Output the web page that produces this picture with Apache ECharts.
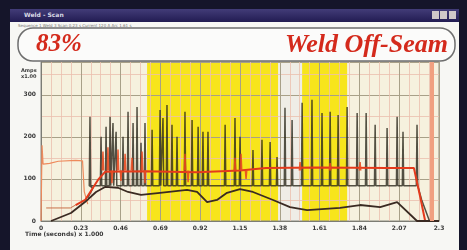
<!DOCTYPE html>
<html>
<head>
<meta charset="utf-8">
<script src="https://cdn.jsdelivr.net/npm/echarts@6/dist/echarts.min.js"></script>
<style>
html, body { margin: 0; padding: 0; background: #15152a; overflow: hidden; }
#frame { position: absolute; left: 10px; top: 9px; width: 449px; height: 245px; background: #f7f7f4; }
#titlebar { position: absolute; left: 10px; top: 9px; width: 449px; height: 13px; background: linear-gradient(#423c78, #221c52); }
#titlebar span { position: absolute; left: 14px; top: 2px; font: bold 6px 'DejaVu Sans'; color: #d8d8e4; }
.btn { position: absolute; top: 11px; width: 7px; height: 8px; background: #cfc8c8; }
#status { position: absolute; left: 18px; top: 23px; font: 4px 'DejaVu Sans'; color: #777; white-space: nowrap; }
#chart { position: absolute; left: 0; top: 0; width: 467px; height: 250px; }
</style>
</head>
<body>
<div id="frame"></div>
<div id="titlebar"><span>Weld - Scan</span></div>
<div class="btn" style="left:432px"></div>
<div class="btn" style="left:440px"></div>
<div class="btn" style="left:449px"></div>
<div id="status">Sequence 1  Weld 3  Scan 0.23 s  Current 120 A  Arc 1.61 s</div>
<div id="chart"></div>
<script>
var xTickLabels = ['0', '0.23', '0.46', '0.69', '0.92', '1.15', '1.38', '1.61', '1.84', '2.07', '2.3']

// dark averaged trace
var avgTimes = [0.058, 0.173, 0.254, 0.318, 0.37, 0.445, 0.503, 0.578, 0.688, 0.844, 0.902, 0.96, 1.017, 1.075, 1.15, 1.225, 1.341, 1.439, 1.538, 1.728, 1.844, 1.96, 2.058, 2.173, 2.3]
var avgValues = [0, 19, 45, 69, 81, 79, 69, 62, 67, 74, 69, 45, 50, 67, 76, 69, 50, 33, 26, 31, 38, 33, 45, 0, 0]

// black spiky trace
var blackBase = 84
var blackStartTimes = [0.27, 0.3]
var blackStartValues = [55, 78]
var spikeTimes = [0.283, 0.347, 0.376, 0.399, 0.416, 0.434, 0.474, 0.503, 0.532, 0.555, 0.578, 0.601, 0.642, 0.688, 0.705, 0.728, 0.757, 0.786, 0.832, 0.873, 0.908, 0.936, 0.965, 1.064, 1.121, 1.15, 1.225, 1.277, 1.324, 1.364, 1.41, 1.451, 1.509, 1.566, 1.624, 1.671, 1.717, 1.769, 1.827, 1.879, 1.931, 2.0, 2.058, 2.092, 2.173]
var spikePeaks = [248, 200, 224, 248, 233, 212, 200, 260, 233, 271, 186, 233, 217, 264, 245, 276, 229, 200, 260, 240, 224, 212, 212, 229, 245, 200, 169, 193, 188, 152, 269, 240, 281, 288, 257, 260, 252, 271, 257, 257, 229, 221, 248, 212, 229]
var blackEndTimes = [2.2, 2.245, 2.3]
var blackEndValues = [50, 0, 0]

// red trace
var preflowTimes = [0.03, 0.17, 0.2]
var preflowValues = [31, 31, 38]
var redTimes = [0.2, 0.255, 0.33, 0.37, 0.6, 0.9, 1.15, 1.3, 1.6, 2.0, 2.155, 2.19, 2.22, 2.3]
var redValues = [38, 50, 98, 117, 118, 116, 120, 126, 127, 126, 126, 60, 0, 0]
var redLevel = 120
var redSpikeTimes = [0.358, 0.387, 0.41, 0.445, 0.462, 0.486, 0.526, 0.584, 0.601, 0.832, 0.85, 1.121, 1.156, 1.185, 1.497, 1.671, 1.844]
var redSpikeValues = [165, 175, 90, 170, 95, 160, 150, 165, 90, 160, 92, 150, 160, 100, 140, 138, 140]

// orange open-circuit trace
var voltTimes = [0, 0.006, 0.012, 0.05, 0.1, 0.2, 0.24, 0.25, 0.27]
var voltValues = [0, 180, 135, 137, 142, 144, 143, 70, 40]

var yellowBands = [[0.613, 1.37], [1.509, 1.769]]
var paleBand = [1.37, 1.509]
var endMarkTime = 2.258

function pairs (ts, vs) {
  return ts.map(function (t, i) { return [t, vs[i]] })
}

var blackData = pairs(blackStartTimes, blackStartValues)
spikeTimes.forEach(function (t, i) {
  blackData.push([t - 0.004, blackBase], [t, spikePeaks[i]], [t + 0.004, blackBase])
})
blackData = blackData.concat(pairs(blackEndTimes, blackEndValues))

var redSpikeData = []
redSpikeTimes.forEach(function (t, i) {
  redSpikeData.push([t - 0.004, redLevel], [t, redSpikeValues[i]], [t + 0.004, redLevel], [t + 0.0045, '-'])
})

var bandAreas = [[{ xAxis: 0, itemStyle: { color: '#f6f1de' } }, { xAxis: 2.3 }]]
bandAreas.push([{ xAxis: paleBand[0], itemStyle: { color: '#efede6' } }, { xAxis: paleBand[1] }])
yellowBands.forEach(function (b) {
  bandAreas.push([{ xAxis: b[0], itemStyle: { color: '#f7e51c' } }, { xAxis: b[1] }])
})

var myChart = echarts.init(document.getElementById('chart'))
myChart.setOption({
  animation: false,
  grid: { left: 41, right: 28, top: 62, bottom: 29, show: true, borderColor: '#8c8c84', borderWidth: 1 },
  xAxis: {
    type: 'value',
    min: 0,
    max: 2.3,
    interval: 0.23,
    axisLine: { show: true, lineStyle: { color: '#7c7c74' } },
    axisTick: { show: false },
    axisLabel: {
      fontSize: 6, fontWeight: 'bold', color: '#3a3a3a', margin: 4, fontFamily: 'DejaVu Sans',
      formatter: function (v) { return xTickLabels[Math.round(v / 0.23)] }
    },
    splitLine: { show: true, lineStyle: { color: '#a8a088', width: 1 } },
    minorTick: { show: false, splitNumber: 4 },
    minorSplitLine: { show: true, lineStyle: { color: '#ebbfae', width: 1, opacity: 0.8 } }
  },
  yAxis: {
    type: 'value',
    min: 0,
    max: 378,
    interval: 100,
    axisLine: { show: true, lineStyle: { color: '#7c7c74' } },
    axisTick: { show: false },
    axisLabel: { fontSize: 6, fontWeight: 'bold', color: '#3a3a3a', margin: 5, fontFamily: 'DejaVu Sans', showMaxLabel: false },
    splitLine: { show: true, lineStyle: { color: '#a8a088', width: 1 } },
    minorTick: { show: false, splitNumber: 2 },
    minorSplitLine: { show: true, lineStyle: { color: '#ebbfae', width: 1, opacity: 0.8 } }
  },
  graphic: [
    { type: 'rect', shape: { x: 18, y: 28, width: 437, height: 33, r: 15 }, style: { fill: '#fbfbfa', stroke: '#6e6e6e', lineWidth: 1.5 } },
    { type: 'text', x: 36, y: 45, style: { text: '83%', fill: '#d42a1c', font: 'italic bold 25px "Liberation Serif"', verticalAlign: 'middle' } },
    { type: 'text', x: 448, y: 45, style: { text: 'Weld Off-Seam', fill: '#d42a1c', font: 'italic bold 26px "Liberation Serif"', align: 'right', verticalAlign: 'middle' } },
    { type: 'text', x: 21, y: 68, style: { text: 'Amps\nx1.00', fill: '#3a3a3a', font: 'bold 5px "DejaVu Sans"', lineHeight: 6 } },
    { type: 'text', x: 25, y: 231, style: { text: 'Time (seconds) x 1.000', fill: '#3a3a3a', font: 'bold 6px "DejaVu Sans"' } }
  ],
  series: [
    {
      name: 'bands',
      type: 'line',
      z: -1,
      data: [],
      markArea: { z: -1, silent: true, data: bandAreas }
    },
    {
      name: 'Volts',
      type: 'line',
      symbol: 'none',
      data: pairs(voltTimes, voltValues),
      lineStyle: { color: '#ee8a5c', width: 1.2 }
    },
    {
      name: 'Preflow',
      type: 'line',
      symbol: 'none',
      data: pairs(preflowTimes, preflowValues),
      lineStyle: { color: '#c8704a', width: 1 }
    },
    {
      name: 'Arc',
      type: 'line',
      symbol: 'none',
      data: blackData,
      lineStyle: { color: '#2a281c', width: 1.5, opacity: 0.8 }
    },
    {
      name: 'Current',
      type: 'line',
      symbol: 'none',
      data: pairs(redTimes, redValues),
      lineStyle: { color: '#e43a1c', width: 2 },
      markLine: {
        silent: true,
        symbol: 'none',
        label: { show: false },
        lineStyle: { color: '#f0a080', width: 4, type: 'solid' },
        data: [{ xAxis: endMarkTime }]
      }
    },
    {
      name: 'CurrentSpikes',
      type: 'line',
      symbol: 'none',
      connectNulls: false,
      data: redSpikeData,
      lineStyle: { color: '#e84a20', width: 1.5, opacity: 0.9 }
    },
    {
      name: 'Average',
      type: 'line',
      symbol: 'none',
      data: pairs(avgTimes, avgValues),
      lineStyle: { color: '#3a2a22', width: 1.8 }
    }
  ]
})
</script>
</body>
</html>
